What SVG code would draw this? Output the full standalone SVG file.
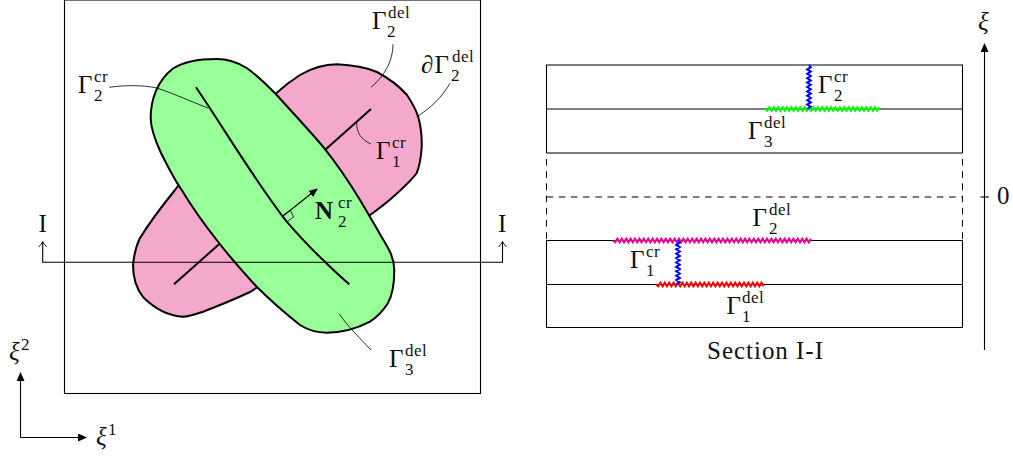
<svg xmlns="http://www.w3.org/2000/svg" width="1013" height="459" viewBox="0 0 1013 459">
<style>
text{font-family:"Liberation Serif",serif;fill:#111}
.m{font-size:25px}.s{font-size:17px;letter-spacing:.5px}.i{font-style:italic}.b{font-weight:bold}
.thin{fill:none;stroke:#000;stroke-width:1.1}
.hair{fill:none;stroke:#000;stroke-width:.8}
.thick{fill:none;stroke:#000;stroke-width:2}
.dash{fill:none;stroke:#000;stroke-width:1;stroke-dasharray:6.6 5.6}
.zig{fill:none;stroke-width:2}
</style>
<defs>
<marker id="a" markerWidth="10" markerHeight="8" refX="8" refY="4" orient="auto" markerUnits="userSpaceOnUse"><path d="M0 0L9 4L0 8z" fill="#000"/></marker>
<marker id="o" markerWidth="9" markerHeight="10" refX="6" refY="5" orient="auto-start-reverse" markerUnits="userSpaceOnUse"><path d="M1 1Q4 4 6.500 5Q4 6 1 9" fill="none" stroke="#000" stroke-width=".9"/></marker>
</defs>
<g id="frame"><rect x="64.500" y="0" width="416" height="393.500" class="thin"/></g>
<g id="pink-patch"><path d="M275 94.300C284 86 292 80 300 75C312 68 324 64.300 337 64.300C352 65 365 67 377 72C390 79 399 86 407 95C413 104 416 110 418.300 117C421 127 422 137 421.700 147C421 158 420 165 416.700 173C411 181 402 189 393 197C384 205 377 210 370 215L250 292C235 299 218 306 203 311.700C195 314.500 189 316.700 183 316.700C168 316 154 308 143 297C136 288 133 276 133 265C134 255 136 246 140 238C150 222 162 206 175 190L190 170z" fill="#f4a9cc" stroke="#000" stroke-width="2"/></g>
<path d="M371 109L174 284.300" class="thick"/>
<g id="green-patch"><path d="M216.700 59C227 59 237 62 246.700 68C258 76 267 85 276.700 95C293 113 309 130 323 146.700C337 164 349 182 360 200C367 212 375 225 381 236C389 249 394.300 258 394.300 270C394.300 282 393 294 388 303C383 311 377 317 370 321.700C358 328 342 332.700 326.700 332.700C317 332.700 308 330 300 325C285 313 271 301 256.700 286.700C243 272 229 256 216.700 240C204 224 192 207 181.700 190C174 179 167 165 161 153C155 140 150.700 129 150.700 118C150.700 100 157 81 173 68.500C183 62 200 59 216.700 59z" fill="#99ff99" stroke="#000" stroke-width="2"/></g>
<g id="connectors">
<path d="M196 87.300C225 130 253 178 286.700 221.700C300 237 312 250 325 261.700C333 270 341 277 349.300 284.300" class="thick"/>
<path d="M42.700 242V262.300H502.500V242" class="thin" marker-start="url(#o)" marker-end="url(#o)"/>
<path d="M109.300 87.300C125 85 143 85 157 88C175 94 192 102 208 108" class="hair"/>
<path d="M393 44.300C393 60 385 76 371 87.300" class="hair"/>
<path d="M450 83.300C442 97 431 108 416.700 116.700" class="hair"/>
<path d="M356.700 121.700C356 133 362 140 371 144" class="hair"/>
<path d="M339.300 314C349 328 360 338 371 350" class="hair"/>
<path d="M283 216L317 189" class="thin" marker-end="url(#a)"/>
<path d="M283.300 215L290.500 210.500L293.500 217L286.700 222" class="hair"/>
<path d="M20.500 437.500V373" class="thin" marker-end="url(#a)"/>
<path d="M20.500 437.500H86" class="thin" marker-end="url(#a)"/>
<path d="M984.500 350V44" class="thin" marker-end="url(#a)"/>
<path d="M980.500 197H989" class="thin"/>
</g>
<g id="section">
<path d="M546.500 153V65H962.500V153M546.500 109H962.500M546.500 153H962.500" class="thin"/>
<path d="M546.500 159V240M962.500 159V240M546.500 197H962.500" class="dash"/>
<path d="M546.500 240.500H962.500V327.500H546.500zM546.500 284.500H962.500" class="thin"/>
</g>
<g id="interfaces">
<path class="zig" stroke="#00ff00" d="M765 109l2.200 1.800 2.200-3.600 2.200 3.600 2.200-3.600 2.200 3.600 2.200-3.600 2.200 3.600 2.200-3.600 2.200 3.600 2.200-3.600 2.200 3.600 2.200-3.600 2.200 3.600 2.200-3.600 2.200 3.600 2.200-3.600 2.200 3.600 2.200-3.600 2.200 3.600 2.200-3.600 2.200 3.600 2.200-3.600 2.200 3.600 2.200-3.600 2.200 3.600 2.200-3.600 2.200 3.600 2.200-3.600 2.200 3.600 2.200-3.600 2.200 3.600 2.200-3.600 2.200 3.600 2.200-3.600 2.200 3.600 2.200-3.600 2.200 3.600 2.200-3.600 2.200 3.600 2.200-3.600 2.200 3.600 2.200-3.600 2.200 3.600 2.200-3.600 2.200 3.600 2.200-3.600 2.200 3.600 2.200-3.600 2.200 3.600 2.200-3.600 2.200 3.600 2.200-3.600"/>
<path class="zig" stroke="#0000ff" d="M809 65l1.800 2.200-3.600 2.200 3.600 2.200-3.600 2.200 3.600 2.200-3.600 2.200 3.600 2.200-3.600 2.200 3.600 2.200-3.600 2.200 3.600 2.200-3.600 2.200 3.600 2.200-3.600 2.200 3.600 2.200-3.600 2.200 3.600 2.200-3.600 2.200 3.600 2.200-3.600 2.200"/>
<path class="zig" stroke="#ec008c" d="M613 240.500l2.200 1.800 2.200-3.600 2.200 3.600 2.200-3.600 2.200 3.600 2.200-3.600 2.200 3.600 2.200-3.600 2.200 3.600 2.200-3.600 2.200 3.600 2.200-3.600 2.200 3.600 2.200-3.600 2.200 3.600 2.200-3.600 2.200 3.600 2.200-3.600 2.200 3.600 2.200-3.600 2.200 3.600 2.200-3.600 2.200 3.600 2.200-3.600 2.200 3.600 2.200-3.600 2.200 3.600 2.200-3.600 2.200 3.600 2.200-3.600 2.200 3.600 2.200-3.600 2.200 3.600 2.200-3.600 2.200 3.600 2.200-3.600 2.200 3.600 2.200-3.600 2.200 3.600 2.200-3.600 2.200 3.600 2.200-3.600 2.200 3.600 2.200-3.600 2.200 3.600 2.200-3.600 2.200 3.600 2.200-3.600 2.200 3.600 2.200-3.600 2.200 3.600 2.200-3.600 2.200 3.600 2.200-3.600 2.200 3.600 2.200-3.600 2.200 3.600 2.200-3.600 2.200 3.600 2.200-3.600 2.200 3.600 2.200-3.600 2.200 3.600 2.200-3.600 2.200 3.600 2.200-3.600 2.200 3.600 2.200-3.600 2.200 3.600 2.200-3.600 2.200 3.600 2.200-3.600 2.200 3.600 2.200-3.600 2.200 3.600 2.200-3.600 2.200 3.600 2.200-3.600 2.200 3.600 2.200-3.600 2.200 3.600 2.200-3.600 2.200 3.600 2.200-3.600 2.200 3.600 2.200-3.600 2.200 3.600 2.200-3.600 2.200 3.600 2.200-3.600"/>
<path class="zig" stroke="#ff0000" d="M656 284.500l2.200 1.800 2.200-3.600 2.200 3.600 2.200-3.600 2.200 3.600 2.200-3.600 2.200 3.600 2.200-3.600 2.200 3.600 2.200-3.600 2.200 3.600 2.200-3.600 2.200 3.600 2.200-3.600 2.200 3.600 2.200-3.600 2.200 3.600 2.200-3.600 2.200 3.600 2.200-3.600 2.200 3.600 2.200-3.600 2.200 3.600 2.200-3.600 2.200 3.600 2.200-3.600 2.200 3.600 2.200-3.600 2.200 3.600 2.200-3.600 2.200 3.600 2.200-3.600 2.200 3.600 2.200-3.600 2.200 3.600 2.200-3.600 2.200 3.600 2.200-3.600 2.200 3.600 2.200-3.600 2.200 3.600 2.200-3.600 2.200 3.600 2.200-3.600 2.200 3.600 2.200-3.600 2.200 3.600 2.200-3.600 2.200 3.600"/>
<path class="zig" stroke="#0000ff" d="M678 240.500l1.800 2.200-3.600 2.200 3.600 2.200-3.600 2.200 3.600 2.200-3.600 2.200 3.600 2.200-3.600 2.200 3.600 2.200-3.600 2.200 3.600 2.200-3.600 2.200 3.600 2.200-3.600 2.200 3.600 2.200-3.600 2.200 3.600 2.200-3.600 2.200 3.600 2.200-3.600 2.200"/>
</g>
<g id="labels-plan">
<g id="l-g2del"><text class="m" x="372" y="29">Γ</text><text class="s" x="388" y="18">del</text><text class="s" x="387" y="37">2</text></g>
<g id="l-dg2del"><text class="m i" x="421" y="72.500">∂</text><text class="m" x="434.500" y="72.500">Γ</text><text class="s" x="452" y="62">del</text><text class="s" x="451" y="81">2</text></g>
<g id="l-g2cr"><text class="m" x="78" y="93">Γ</text><text class="s" x="94" y="82">cr</text><text class="s" x="94" y="101">2</text></g>
<g id="l-g1cr"><text class="m" x="376" y="159">Γ</text><text class="s" x="392" y="148">cr</text><text class="s" x="392" y="167">1</text></g>
<g id="l-n2cr"><text class="m b" x="315" y="219">N</text><text class="s" x="338" y="208">cr</text><text class="s" x="338" y="227">2</text></g>
<g id="l-i1"><text class="m" x="38.500" y="232">I</text></g>
<g id="l-i2"><text class="m" x="498" y="232">I</text></g>
<g id="l-g3del"><text class="m" x="389" y="367">Γ</text><text class="s" x="405" y="356">del</text><text class="s" x="405" y="375">3</text></g>
<g id="l-xi2"><text class="m i" x="9" y="360">ξ</text><text class="s" x="21" y="350">2</text></g>
<g id="l-xi1"><text class="m i" x="96" y="445">ξ</text><text class="s" x="108" y="435">1</text></g>
</g>
<g id="labels-section">
<g id="l-xi"><text class="m i" x="978" y="30">ξ</text></g>
<g id="l-zero"><text class="m" x="997" y="204">0</text></g>
<g id="l-s-g2cr"><text class="m" x="818" y="93">Γ</text><text class="s" x="834" y="82">cr</text><text class="s" x="834" y="101">2</text></g>
<g id="l-s-g3del"><text class="m" x="748" y="139">Γ</text><text class="s" x="764" y="128">del</text><text class="s" x="764" y="147">3</text></g>
<g id="l-s-g2del"><text class="m" x="752.500" y="226">Γ</text><text class="s" x="769" y="215">del</text><text class="s" x="769" y="234">2</text></g>
<g id="l-s-g1cr"><text class="m" x="630" y="268">Γ</text><text class="s" x="646" y="257">cr</text><text class="s" x="646" y="276">1</text></g>
<g id="l-s-g1del"><text class="m" x="726.500" y="314">Γ</text><text class="s" x="742" y="303">del</text><text class="s" x="742" y="322">1</text></g>
<g id="l-section"><text class="m" x="707" y="359" textLength="116">Section I-I</text></g>
</g>
</svg>
